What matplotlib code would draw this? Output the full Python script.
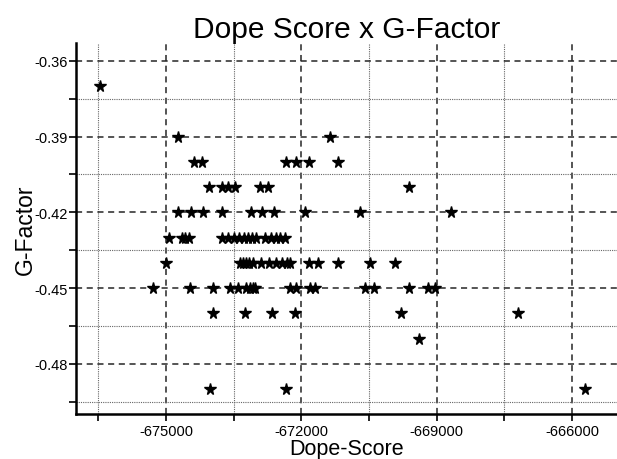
import matplotlib.pyplot as plt
from matplotlib.ticker import MultipleLocator

plt.rcParams['font.family'] = ['Liberation Sans', 'DejaVu Sans']
plt.rcParams['axes.unicode_minus'] = False

# G-Factor levels (rows) and the Dope scores found on each level
g_levels = [-0.37, -0.39, -0.40, -0.41, -0.42, -0.43, -0.44, -0.45, -0.46, -0.47, -0.49]

dope_037 = [-676470]
dope_039 = [-674740, -671360]
dope_040 = [-674390, -674200, -672330, -672120, -671840, -671180]
dope_041 = [-674040, -673750, -673630, -673480, -672910, -672740, -669610]
dope_042 = [-674740, -674450, -674190, -673750, -673120, -672880, -672610,
            -671920, -670710, -668680]
dope_043 = [-674930, -674650, -674570, -674500, -673770, -673630, -673500,
            -673390, -673280, -673190, -673100, -673010, -672800, -672670,
            -672570, -672470, -672360]
dope_044 = [-675000, -673370, -673300, -673220, -673150, -673080, -672890,
            -672720, -672570, -672430, -672320, -672250, -671820, -671640,
            -671190, -670470, -669920]
dope_045 = [-675300, -674470, -673960, -673590, -673400, -673230, -673140,
            -673070, -673020, -672260, -672120, -671800, -671700, -670580,
            -670380, -669610, -669190, -669040]
dope_046 = [-673960, -673260, -672660, -672130, -669800, -667200]
dope_047 = [-669390]
dope_049 = [-674020, -672350, -665710]

rows = [dope_037, dope_039, dope_040, dope_041, dope_042, dope_043,
        dope_044, dope_045, dope_046, dope_047, dope_049]

dope_score = []
g_factor = []
for g, xs in zip(g_levels, rows):
    dope_score += xs
    g_factor += [g] * len(xs)

fig = plt.figure(figsize=(6.17, 4.6), dpi=100)
ax = fig.add_axes([0.123, 0.097, 0.877, 0.807])

ax.plot(dope_score, g_factor, linestyle='none', marker='*', color='black',
        markersize=8.5, zorder=3)

ax.set_xlim(-677000, -665000)
ax.set_ylim(-0.50, -0.353)

ax.xaxis.set_major_locator(MultipleLocator(3000))
ax.xaxis.set_minor_locator(MultipleLocator(1500))
ax.yaxis.set_major_locator(MultipleLocator(0.03))
ax.yaxis.set_minor_locator(MultipleLocator(0.015))
ax.yaxis.set_major_formatter(plt.FuncFormatter(lambda v, p: f'{v:.2f}'))

ax.grid(which='major', linestyle=(0, (4, 3)), color='0.15', linewidth=1.1)
ax.grid(which='minor', linestyle=(0, (1, 1)), color='0.4', linewidth=0.8)

for s in ['top', 'right']:
    ax.spines[s].set_visible(False)
for s in ['left', 'bottom']:
    ax.spines[s].set_linewidth(1.8)

ax.tick_params(which='both', direction='out', length=5, width=1.2, labelsize=10.5)
ax.tick_params(axis='x', pad=2)
ax.tick_params(axis='y', pad=1)

ax.set_title('Dope Score x G-Factor', fontsize=21.5, pad=2)
ax.set_xlabel('Dope-Score', fontsize=15.5, labelpad=0)
ax.set_ylabel('G-Factor', fontsize=16.5, labelpad=-2)

fig.savefig('out.png', dpi=100)
